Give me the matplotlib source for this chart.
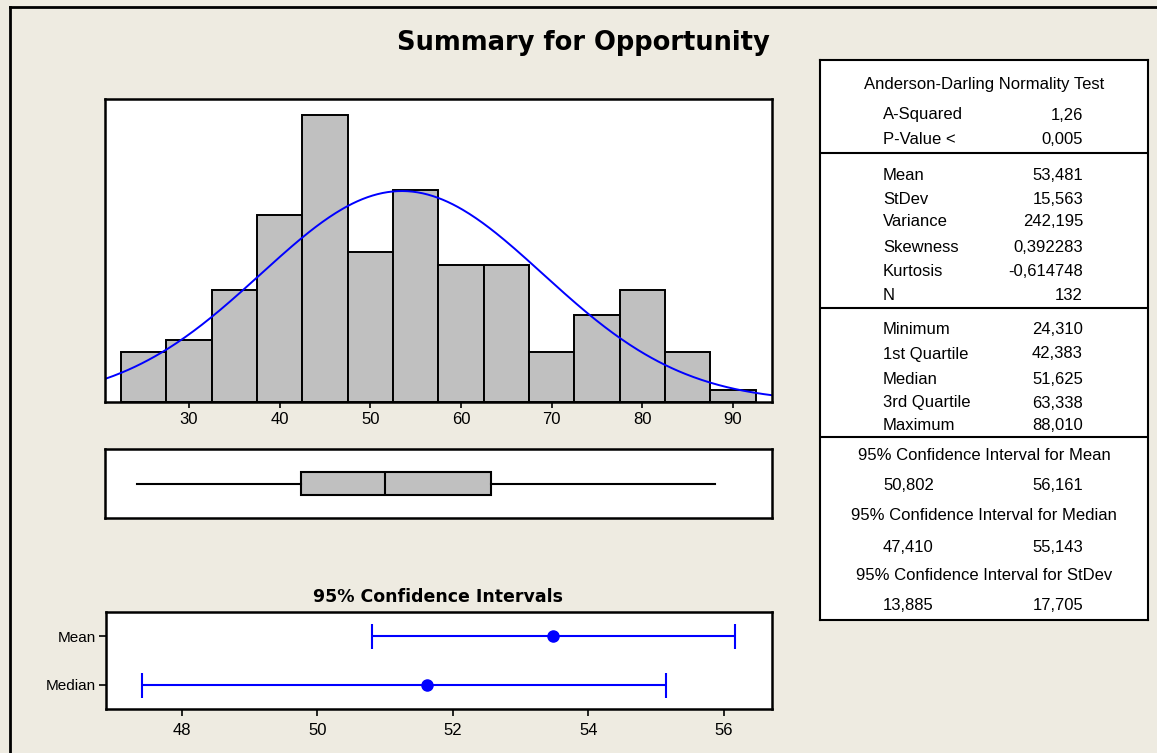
import matplotlib.pyplot as plt
import numpy as np
from matplotlib.lines import Line2D

# histogram data (bin width 5)
bin_left = [22.5, 27.5, 32.5, 37.5, 42.5, 47.5, 52.5, 57.5, 62.5, 67.5, 72.5, 77.5, 82.5, 87.5]
counts = [4, 5, 9, 15, 23, 12, 17, 11, 11, 4, 7, 9, 4, 1]
bin_width = 5
hist_ticks = [30, 40, 50, 60, 70, 80, 90]

# summary statistics
n_obs = 132
mean = 53.481
stdev = 15.563
minimum = 24.310
q1 = 42.383
median = 51.625
q3 = 63.338
maximum = 88.010

# confidence intervals
ci_names = ['Mean', 'Median']
ci_center = [53.481, 51.625]
ci_low = [50.802, 47.410]
ci_high = [56.161, 55.143]
ci_ticks = [48, 50, 52, 54, 56]

# text of the stats table
ad_labels = ['A-Squared', 'P-Value <']
ad_values = ['1,26', '0,005']
mom_labels = ['Mean', 'StDev', 'Variance', 'Skewness', 'Kurtosis', 'N']
mom_values = ['53,481', '15,563', '242,195', '0,392283', '-0,614748', '132']
q_labels = ['Minimum', '1st Quartile', 'Median', '3rd Quartile', 'Maximum']
q_values = ['24,310', '42,383', '51,625', '63,338', '88,010']
ci_titles = ['95% Confidence Interval for Mean', '95% Confidence Interval for Median',
             '95% Confidence Interval for StDev']
ci_lo_txt = ['50,802', '47,410', '13,885']
ci_hi_txt = ['56,161', '55,143', '17,705']

bg = '#EEEBE1'
W, H = 1157, 753
tfont = ['Liberation Sans', 'DejaVu Sans']


def box(l, t, r, b):
    return [l / W, 1 - b / H, (r - l) / W, (b - t) / H]


fig = plt.figure(figsize=(W / 100, H / 100), dpi=100, facecolor=bg)

# outer frame (only top and left visible)
fig.add_artist(Line2D([10 / W, 10 / W], [0, 1 - 7 / H], color='black', lw=2))
fig.add_artist(Line2D([10 / W, 1], [1 - 7 / H, 1 - 7 / H], color='black', lw=2))

fig.text(583 / W, 1 - 43 / H, 'Summary for Opportunity', ha='center', va='center',
         fontsize=18.5, fontweight='bold', family='DejaVu Sans')

# histogram
xlim_h = (20.74, 94.3)
ax1 = fig.add_axes(box(105, 99, 772, 402))
ax1.bar(bin_left, counts, width=bin_width, align='edge', color='#C0C0C0',
        edgecolor='black', linewidth=1.4)
xs = np.linspace(xlim_h[0], xlim_h[1], 400)
ys = n_obs * bin_width * np.exp(-0.5 * ((xs - mean) / stdev) ** 2) / (stdev * np.sqrt(2 * np.pi))
ax1.plot(xs, ys, color='#0000FF', lw=1.4)
ax1.set_xlim(xlim_h)
ax1.set_ylim(0, 24.3)
ax1.set_yticks([])
ax1.set_xticks(hist_ticks)
ax1.set_xticklabels([str(t) for t in hist_ticks], family=tfont, fontsize=12)
ax1.tick_params(axis='x', length=4, width=1.2, pad=3)

# boxplot
ax2 = fig.add_axes(box(105, 449, 772, 518))
stats = [{'med': median, 'q1': q1, 'q3': q3, 'whislo': minimum, 'whishi': maximum, 'fliers': []}]
ax2.bxp(stats, orientation='horizontal', widths=0.33, patch_artist=True, showcaps=False,
        boxprops=dict(facecolor='#C0C0C0', edgecolor='black', linewidth=1.5),
        medianprops=dict(color='black', linewidth=1.5),
        whiskerprops=dict(color='black', linewidth=1.5))
ax2.set_xlim(xlim_h)
ax2.set_ylim(0.5, 1.5)
ax2.set_xticks([])
ax2.set_yticks([])

# confidence intervals
ax3 = fig.add_axes(box(106, 612, 772, 709))
ypos = [1, 0]
for y, c, lo, hi in zip(ypos, ci_center, ci_low, ci_high):
    ax3.errorbar([c], [y], xerr=[[c - lo], [hi - c]], fmt='o', color='#0000FF',
                 markersize=8, capsize=9, elinewidth=1.5, capthick=1.5)
ax3.set_xlim(46.88, 56.71)
ax3.set_ylim(-0.5, 1.5)
ax3.set_xticks(ci_ticks)
ax3.set_xticklabels([str(t) for t in ci_ticks], family=tfont, fontsize=12)
ax3.set_yticks(ypos)
ax3.set_yticklabels(ci_names, family=tfont, fontsize=11)
ax3.tick_params(axis='x', length=5, width=1.2, pad=5)
ax3.tick_params(axis='y', length=5, width=1.2, pad=2)
fig.text(438 / W, 1 - 597 / H, '95% Confidence Intervals', ha='center', va='center',
         fontsize=12.5, fontweight='bold', family='DejaVu Sans')

for ax in (ax1, ax2, ax3):
    for s in ax.spines.values():
        s.set_linewidth(1.8)

# stats table
ax4 = fig.add_axes(box(820, 60, 1148, 620))
ax4.set_xlim(820, 1148)
ax4.set_ylim(620, 60)
ax4.set_xticks([])
ax4.set_yticks([])
for s in ax4.spines.values():
    s.set_linewidth(1.5)
for yy in [153, 308, 437]:
    ax4.axhline(yy, color='black', lw=1.5)

fs = 12
lx, rx, cx = 883, 1083, 984
ax4.text(cx, 85, 'Anderson-Darling Normality Test', ha='center', va='center', fontsize=fs, family=tfont)
for lab, val, y in zip(ad_labels, ad_values, [115, 140]):
    ax4.text(lx, y, lab, ha='left', va='center', fontsize=fs, family=tfont)
    ax4.text(rx, y, val, ha='right', va='center', fontsize=fs, family=tfont)
for lab, val, y in zip(mom_labels, mom_values, [175, 199, 222, 248, 271, 295]):
    ax4.text(lx, y, lab, ha='left', va='center', fontsize=fs, family=tfont)
    ax4.text(rx, y, val, ha='right', va='center', fontsize=fs, family=tfont)
for lab, val, y in zip(q_labels, q_values, [330, 354, 379, 403, 426]):
    ax4.text(lx, y, lab, ha='left', va='center', fontsize=fs, family=tfont)
    ax4.text(rx, y, val, ha='right', va='center', fontsize=fs, family=tfont)
for title, lo, hi, y in zip(ci_titles, ci_lo_txt, ci_hi_txt, [455, 516, 575]):
    ax4.text(cx, y, title, ha='center', va='center', fontsize=fs, family=tfont)
    ax4.text(lx, y + 31, lo, ha='left', va='center', fontsize=fs, family=tfont)
    ax4.text(rx, y + 31, hi, ha='right', va='center', fontsize=fs, family=tfont)

fig.savefig('out.png', dpi=100, facecolor=bg)
